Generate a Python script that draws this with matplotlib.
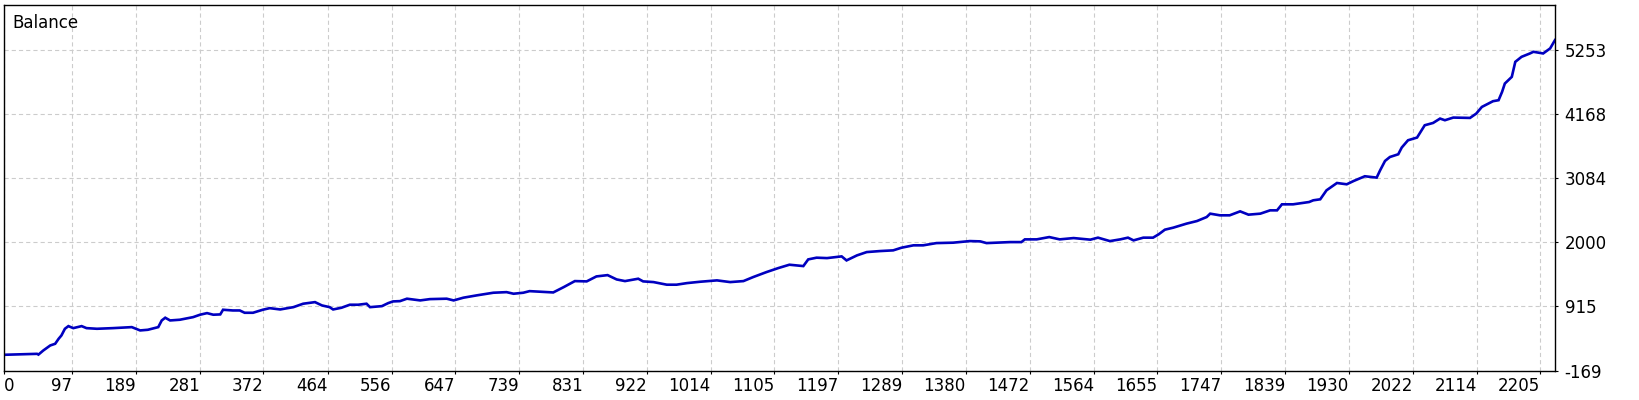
import matplotlib
matplotlib.use("Agg")
import matplotlib.pyplot as plt

# balance curve (trade number, balance)
trades = [
    0, 47, 49, 56, 66, 73, 78, 82, 87, 92, 99, 111, 118, 133, 156, 183, 195, 206,
    221, 226, 231, 238, 252, 271, 281, 291, 300, 310, 314, 328, 338, 345, 357, 371,
    381, 396, 415, 429, 446, 456, 467, 472, 484, 496, 508, 520, 525, 542, 551, 558,
    568, 578, 597, 611, 635, 645, 659, 678, 702, 721, 731, 745, 754, 788, 803, 819,
    836, 850, 866, 879, 891, 910, 917, 932, 951, 965, 980, 999, 1023, 1042, 1061,
    1075, 1094, 1111, 1127, 1147, 1154, 1166, 1181, 1202, 1209, 1224, 1238, 1257,
    1276, 1288, 1305, 1319, 1338, 1362, 1386, 1401, 1410, 1444, 1460, 1465, 1482,
    1500, 1515, 1535, 1559, 1570, 1587, 1602, 1613, 1621, 1635, 1649, 1657, 1666,
    1678, 1697, 1712, 1726, 1731, 1745, 1759, 1774, 1786, 1803, 1817, 1827, 1834,
    1850, 1873, 1879, 1889, 1898, 1913, 1927, 1937, 1953, 1970, 1975, 1982, 1989,
    2001, 2006, 2015, 2028, 2039, 2051, 2061, 2068, 2080, 2104, 2113, 2121, 2137,
    2145, 2150, 2154, 2164, 2169, 2178, 2190, 2195, 2209, 2219, 2226,
]
balance = [
    97, 113, 100, 170, 255, 283, 368, 424, 537, 582, 548, 582, 548, 537, 548, 565,
    509, 520, 565, 678, 724, 678, 690, 734, 775, 802, 775, 780, 859, 847, 847, 808,
    808, 859, 886, 864, 903, 961, 988, 932, 903, 864, 893, 944, 944, 961, 903, 920,
    971, 1000, 1005, 1046, 1017, 1039, 1046, 1017, 1063, 1102, 1147, 1157, 1130,
    1147, 1174, 1152, 1242, 1344, 1339, 1423, 1445, 1372, 1344, 1384, 1339, 1327,
    1283, 1283, 1310, 1333, 1356, 1327, 1344, 1412, 1496, 1564, 1621, 1598, 1711,
    1740, 1733, 1762, 1694, 1779, 1835, 1852, 1864, 1909, 1949, 1949, 1987, 1994,
    2021, 2016, 1987, 2004, 2004, 2050, 2050, 2089, 2050, 2072, 2045, 2079, 2021,
    2050, 2079, 2033, 2079, 2079, 2135, 2214, 2248, 2316, 2360, 2428, 2485, 2457,
    2457, 2524, 2468, 2485, 2541, 2541, 2643, 2643, 2682, 2711, 2728, 2880, 3004,
    2982, 3038, 3118, 3095, 3219, 3377, 3444, 3490, 3604, 3727, 3773, 3981, 4020,
    4094, 4066, 4111, 4105, 4179, 4291, 4388, 4405, 4545, 4687, 4800, 5054, 5139,
    5196, 5224, 5196, 5281, 5422,
]

x_ticks = [0, 97, 189, 281, 372, 464, 556, 647, 739, 831, 922, 1014, 1105, 1197,
           1289, 1380, 1472, 1564, 1655, 1747, 1839, 1930, 2022, 2114, 2205]
y_ticks = [-169, 915, 2000, 3084, 4168, 5253]

plt.rcParams["font.family"] = "DejaVu Sans"
plt.rcParams["lines.scale_dashes"] = False

fig = plt.figure(figsize=(16.4, 4.0), dpi=100)
ax = fig.add_axes([4.3 / 1640, 29.5 / 400, (1555 - 4.3) / 1640, (370.5 - 4.7) / 400])

ax.plot(trades, balance, color="#0000c0", lw=1.9, solid_joinstyle="miter")

ax.set_xlim(0, 2226)
ax.set_ylim(-169, 6021)

ax.set_xticks(x_ticks)
ax.set_xticklabels([str(v) for v in x_ticks], fontsize=12)
for lbl in ax.get_xticklabels():
    lbl.set_horizontalalignment("right")
ax.get_xticklabels()[0].set_horizontalalignment("left")

ax.yaxis.tick_right()
ax.set_yticks(y_ticks)
ax.set_yticklabels([str(v) for v in y_ticks], fontsize=12)

ax.tick_params(axis="x", length=2.5, width=0.8, pad=2, colors="black")
ax.tick_params(axis="y", length=2.5, width=0.8, pad=4.5, colors="black")

ax.grid(True, color="#cccccc", lw=0.8, linestyle=(0, (3.0, 2.2)))
ax.set_axisbelow(True)
for s in ax.spines.values():
    s.set_color("black")
    s.set_linewidth(1.0)

fig.text(12 / 1640, 1 - 28 / 400, "Balance", fontsize=12, va="baseline", ha="left")

fig.savefig("out.png", dpi=100, facecolor="white")
